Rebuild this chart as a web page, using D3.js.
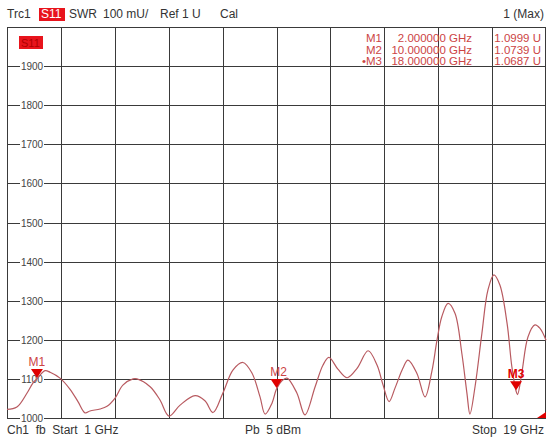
<!DOCTYPE html>
<html>
<head>
<meta charset="utf-8">
<script src="https://cdn.jsdelivr.net/npm/d3@7"></script>
<style>
  body { margin: 0; background: #fff; }
  svg { display: block; font-family: "Liberation Sans", Arial, sans-serif; }
</style>
</head>
<body>
<svg id="chart"></svg>
<script>
// trace S11, SWR in mU, frequency in GHz
var freqs = [1.00, 1.33, 1.67, 1.87, 2.00, 2.27, 2.44, 2.77, 3.10, 3.37, 3.61, 3.77, 4.11, 4.34, 4.61, 4.87,
  5.21, 5.34, 5.78, 6.11, 6.41, 6.78, 7.28, 7.61, 7.88, 8.21, 8.55, 8.88, 9.18, 9.45, 9.62, 9.85,
  10.00, 10.18, 10.35, 10.68, 10.95, 11.29, 11.55, 11.75, 12.05, 12.36, 12.69, 13.06, 13.36, 13.56,
  13.76, 13.96, 14.22, 14.39, 14.69, 14.96, 15.19, 15.36, 15.52, 15.73, 15.96, 16.19, 16.36, 16.46,
  16.63, 16.86, 17.06, 17.26, 17.46, 17.70, 17.86, 18.00, 18.05, 18.19, 18.40, 18.63, 18.80, 19.00];
var swr = [1022, 1028, 1064, 1090, 1100, 1121, 1117, 1102, 1074, 1042, 1013, 1018, 1023, 1030, 1051, 1084,
  1100, 1100, 1080, 1046, 1005, 1033, 1057, 1044, 1014, 1064, 1123, 1142, 1115, 1054, 1010, 1038,
  1074, 1095, 1102, 1064, 1008, 1080, 1135, 1155, 1125, 1103, 1127, 1172, 1135, 1084,
  1042, 1077, 1127, 1148, 1114, 1054, 1120, 1199, 1259, 1293, 1268, 1165, 1063, 1010,
  1080, 1217, 1327, 1366, 1340, 1242, 1131, 1069, 1060, 1114, 1208, 1238, 1229, 1199];

var yTicks = [1000, 1100, 1200, 1300, 1400, 1500, 1600, 1700, 1800, 1900];
var yGrid = [1100, 1200, 1300, 1400, 1500, 1600, 1700, 1800, 1900];
var xGrid = [2.8, 4.6, 6.4, 8.2, 10.0, 11.8, 13.6, 15.4, 17.2];

var markerNames = ["M1", "M2", "M3"];
var markerFreqs = [2, 10, 18];
var markerValues = [1099.9, 1073.9, 1068.7];

var W = 548, H = 441;
var svg = d3.select("#chart").attr("width", W).attr("height", H);

var x = d3.scaleLinear().domain([1, 19]).range([7, 546]);
var y = d3.scaleLinear().domain([1000, 2000]).range([418, 27]);

var gridColor = "#3a3a3a";
var markColor = "#cc4444";

// header line
var head = svg.append("g").style("font-size", "12px").attr("fill", "#333");
head.append("text").attr("x", 7).attr("y", 18).text("Trc1");
head.append("rect").attr("x", 39).attr("y", 8).attr("width", 26).attr("height", 13).attr("fill", "#e8141c");
head.append("text").attr("x", 41).attr("y", 18).attr("fill", "#fff").text("S11");
head.append("text").attr("x", 69).attr("y", 18).text("SWR");
head.append("text").attr("x", 103).attr("y", 18).text("100 mU/");
head.append("text").attr("x", 160).attr("y", 18).text("Ref 1 U");
head.append("text").attr("x", 220).attr("y", 18).text("Cal");
head.append("text").attr("x", 544).attr("y", 18).attr("text-anchor", "end").text("1 (Max)");

// grid
var grid = svg.append("g").attr("stroke", gridColor).attr("stroke-width", 1);
grid.selectAll(".vx").data(xGrid).join("line")
  .attr("x1", d => Math.round(x(d)) + 0.5).attr("x2", d => Math.round(x(d)) + 0.5)
  .attr("y1", y(2000)).attr("y2", y(1000));
grid.selectAll(".hy").data(yGrid).join("line")
  .attr("x1", x(1)).attr("x2", x(19))
  .attr("y1", d => Math.round(y(d)) + 0.5).attr("y2", d => Math.round(y(d)) + 0.5);
grid.append("rect")
  .attr("x", x(1) + 0.5).attr("y", y(2000) + 0.5)
  .attr("width", x(19) - x(1) - 1).attr("height", y(1000) - y(2000))
  .attr("fill", "none");

// y labels sit on the grid lines with a white backing
var yl = svg.append("g").style("font-size", "10px");
yTicks.forEach(function (t) {
  var yy = Math.round(y(t)) + 0.5;
  yl.append("rect").attr("x", 20).attr("y", yy - 5).attr("width", 24).attr("height", 10).attr("fill", "#fff");
  yl.append("text").attr("x", 32).attr("y", yy + 3.5).attr("text-anchor", "middle").attr("fill", "#444").text(t);
});

// S11 tag in the plot
svg.append("rect").attr("x", 19).attr("y", 36).attr("width", 24).attr("height", 13).attr("fill", "#e8141c");
svg.append("text").attr("x", 21).attr("y", 46.5).style("font-size", "11px").attr("fill", "#b00000").text("S11");

// marker table
var tbl = svg.append("g").style("font-size", "11.5px").attr("fill", markColor);
markerNames.forEach(function (m, i) {
  var by = 42 + i * 11.5;
  tbl.append("text").attr("x", 382).attr("y", by).attr("text-anchor", "end").text((i === 2 ? "\u2022" : "") + m);
  tbl.append("text").attr("x", 472).attr("y", by).attr("text-anchor", "end").text(markerFreqs[i].toFixed(6) + " GHz");
  tbl.append("text").attr("x", 541).attr("y", by).attr("text-anchor", "end").text((markerValues[i] / 1000).toFixed(4) + " U");
});

// trace
var line = d3.line().x((d, i) => x(freqs[i])).y(d => y(d)).curve(d3.curveCatmullRom.alpha(0.5));
svg.append("path").datum(swr)
  .attr("d", line)
  .attr("fill", "none").attr("stroke", "#b85a60").attr("stroke-width", 1.2);

// markers
var mk = svg.append("g");
markerNames.forEach(function (m, i) {
  var mx = x(markerFreqs[i]), my = y(markerValues[i]);
  mk.append("path")
    .attr("d", `M${mx - 6},${my - 10}L${mx + 6},${my - 10}L${mx},${my - 1}Z`)
    .attr("fill", "#e00000");
  mk.append("text").attr("x", mx + (i === 1 ? 2 : 0)).attr("y", my - 13)
    .attr("text-anchor", "middle")
    .style("font-size", "12px")
    .style("font-weight", i === 2 ? "bold" : "normal")
    .attr("fill", i === 2 ? "#e00000" : markColor)
    .text(m);
});

// stop indicator wedge
svg.append("path")
  .attr("d", `M${x(19)},${y(1000) - 6}L${x(19)},${y(1000)}L${x(19) - 9},${y(1000)}Z`)
  .attr("fill", "#e00000");

// footer
var foot = svg.append("g").style("font-size", "12px").attr("fill", "#333");
foot.append("text").attr("x", 7).attr("y", 434).attr("xml:space", "preserve").text("Ch1  fb  Start  1 GHz");
foot.append("text").attr("x", 245).attr("y", 434).attr("xml:space", "preserve").text("Pb  5 dBm");
foot.append("text").attr("x", 544).attr("y", 434).attr("text-anchor", "end").attr("xml:space", "preserve").text("Stop  19 GHz");
</script>
</body>
</html>
